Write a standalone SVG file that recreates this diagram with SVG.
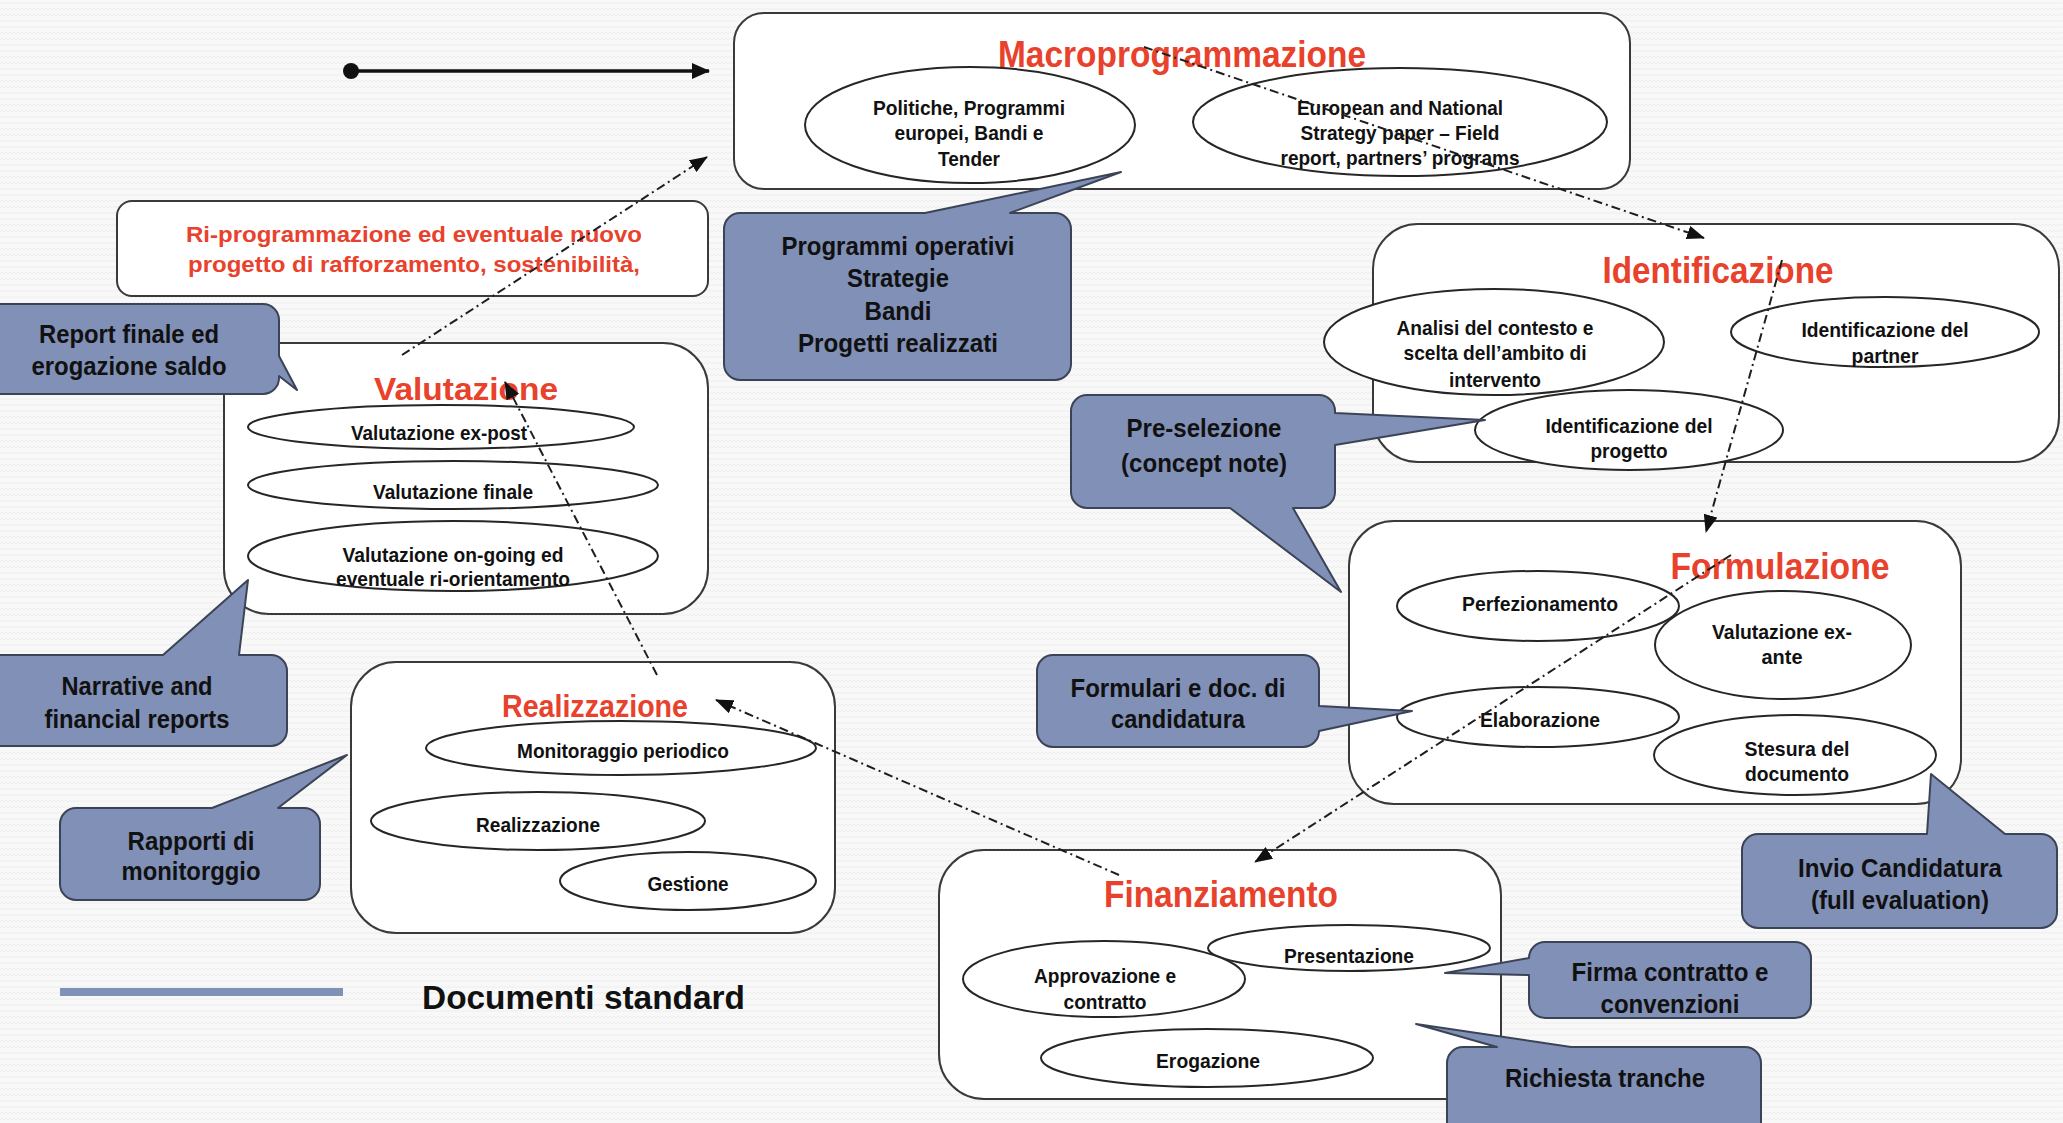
<svg xmlns="http://www.w3.org/2000/svg" width="2063" height="1123" viewBox="0 0 2063 1123">
  <style>
    .box { fill: #ffffff; stroke: #3a3a3a; stroke-width: 2; }
    .oval { fill: #ffffff; stroke: #262626; stroke-width: 2; }
    .note { fill: #8190b7; stroke: #3b4356; stroke-width: 2; stroke-linejoin: round; }
    .t { font-family: "Liberation Sans", Arial, sans-serif; font-weight: bold; text-anchor: middle; fill: #111111; }
    .title { fill: #e8412c; font-size: 36px; }
    .title2 { fill: #e8412c; font-size: 31px; }
    .red { fill: #e8412c; font-size: 22px; }
    .s { font-size: 21px; }
    .m { font-size: 25px; }
    .flow { fill: none; stroke: #1e1e1e; stroke-width: 2; stroke-dasharray: 9 4 2 4; marker-end: url(#ah); }
  </style>
  <defs>
    <pattern id="zig" width="8" height="6" patternUnits="userSpaceOnUse">
      <rect width="8" height="6" fill="#f8f8f8"/>
      <path d="M0,4 L2,2 L4,4 L6,2 L8,4" fill="none" stroke="#ebebeb" stroke-width="0.8"/>
    </pattern>
    <marker id="ah" viewBox="0 0 18 14" refX="17" refY="7" markerWidth="18" markerHeight="14" markerUnits="userSpaceOnUse" orient="auto">
      <path d="M0,0 L18,7 L0,14 Z" fill="#111111"/>
    </marker>
    <marker id="solid" viewBox="0 0 18 16" refX="17" refY="8" markerWidth="18" markerHeight="16" markerUnits="userSpaceOnUse" orient="auto">
      <path d="M0,0 L18,8 L0,16 Z" fill="#111111"/>
    </marker>
  </defs>

  <rect width="2063" height="1123" fill="url(#zig)"/>

  <!-- legend: flow arrow -->
  <g id="legend-flow">
    <circle cx="351" cy="71" r="8" fill="#111111"/>
    <line x1="351" y1="71" x2="709" y2="71" stroke="#111111" stroke-width="3.5" marker-end="url(#solid)"/>
  </g>

  <!-- legend: standard documents -->
  <g id="legend-docs">
    <line x1="60" y1="992" x2="343" y2="992" stroke="#8190b7" stroke-width="8"/>
    <text class="t" style="text-anchor:start;font-size:34px" x="422" y="1009" textLength="323" lengthAdjust="spacingAndGlyphs">Documenti standard</text>
  </g>

  <!-- phase: Macroprogrammazione -->
  <g id="macroprogrammazione">
    <rect class="box" x="734" y="13" width="896" height="176" rx="30"/>
    <text class="t title" x="1182" y="67" textLength="368" lengthAdjust="spacingAndGlyphs">Macroprogrammazione</text>
    <ellipse class="oval" cx="970" cy="125" rx="165" ry="58"/>
    <text class="t s" x="969" y="115" textLength="192" lengthAdjust="spacingAndGlyphs">Politiche, Programmi</text>
    <text class="t s" x="969" y="140" textLength="149" lengthAdjust="spacingAndGlyphs">europei, Bandi e</text>
    <text class="t s" x="969" y="166" textLength="62" lengthAdjust="spacingAndGlyphs">Tender</text>
    <ellipse class="oval" cx="1400" cy="122" rx="207" ry="54"/>
    <text class="t s" x="1400" y="115" textLength="206" lengthAdjust="spacingAndGlyphs">European and National</text>
    <text class="t s" x="1400" y="140" textLength="199" lengthAdjust="spacingAndGlyphs">Strategy paper – Field</text>
    <text class="t s" x="1400" y="165" textLength="239" lengthAdjust="spacingAndGlyphs">report, partners’ programs</text>
  </g>

  <!-- re-programming note -->
  <g id="riprogrammazione">
    <rect class="box" x="117" y="201" width="591" height="95" rx="15"/>
    <text class="t red" x="414" y="242" textLength="456" lengthAdjust="spacingAndGlyphs">Ri-programmazione ed eventuale nuovo</text>
    <text class="t red" x="414" y="272" textLength="452" lengthAdjust="spacingAndGlyphs">progetto di rafforzamento, sostenibilità,</text>
  </g>

  <!-- phase: Identificazione -->
  <g id="identificazione">
    <rect class="box" x="1373" y="224" width="686" height="238" rx="45"/>
    <text class="t title" x="1718" y="283" textLength="231" lengthAdjust="spacingAndGlyphs">Identificazione</text>
    <ellipse class="oval" cx="1494" cy="342" rx="170" ry="53"/>
    <text class="t s" x="1495" y="335" textLength="197" lengthAdjust="spacingAndGlyphs">Analisi del contesto e</text>
    <text class="t s" x="1495" y="360" textLength="183" lengthAdjust="spacingAndGlyphs">scelta dell’ambito di</text>
    <text class="t s" x="1495" y="387" textLength="92" lengthAdjust="spacingAndGlyphs">intervento</text>
    <ellipse class="oval" cx="1885" cy="332" rx="154" ry="35"/>
    <text class="t s" x="1885" y="337" textLength="167" lengthAdjust="spacingAndGlyphs">Identificazione del</text>
    <text class="t s" x="1885" y="363" textLength="67" lengthAdjust="spacingAndGlyphs">partner</text>
    <ellipse class="oval" cx="1629" cy="430" rx="154" ry="40"/>
    <text class="t s" x="1629" y="433" textLength="167" lengthAdjust="spacingAndGlyphs">Identificazione del</text>
    <text class="t s" x="1629" y="458" textLength="77" lengthAdjust="spacingAndGlyphs">progetto</text>
  </g>

  <!-- phase: Formulazione -->
  <g id="formulazione">
    <rect class="box" x="1349" y="521" width="612" height="283" rx="45"/>
    <text class="t title" x="1780" y="579" textLength="219" lengthAdjust="spacingAndGlyphs">Formulazione</text>
    <ellipse class="oval" cx="1538" cy="606" rx="141" ry="35"/>
    <text class="t s" x="1540" y="611" textLength="156" lengthAdjust="spacingAndGlyphs">Perfezionamento</text>
    <ellipse class="oval" cx="1783" cy="645" rx="128" ry="54"/>
    <text class="t s" x="1782" y="639" textLength="140" lengthAdjust="spacingAndGlyphs">Valutazione ex-</text>
    <text class="t s" x="1782" y="664" textLength="41" lengthAdjust="spacingAndGlyphs">ante</text>
    <ellipse class="oval" cx="1538" cy="717" rx="141" ry="30"/>
    <text class="t s" x="1540" y="727" textLength="120" lengthAdjust="spacingAndGlyphs">Elaborazione</text>
    <ellipse class="oval" cx="1795" cy="755" rx="141" ry="40"/>
    <text class="t s" x="1797" y="756" textLength="105" lengthAdjust="spacingAndGlyphs">Stesura del</text>
    <text class="t s" x="1797" y="781" textLength="104" lengthAdjust="spacingAndGlyphs">documento</text>
  </g>

  <!-- phase: Finanziamento -->
  <g id="finanziamento">
    <rect class="box" x="939" y="850" width="562" height="249" rx="45"/>
    <text class="t title" x="1221" y="907" textLength="234" lengthAdjust="spacingAndGlyphs">Finanziamento</text>
    <ellipse class="oval" cx="1349" cy="948" rx="141" ry="23"/>
    <text class="t s" x="1349" y="963" textLength="130" lengthAdjust="spacingAndGlyphs">Presentazione</text>
    <ellipse class="oval" cx="1104" cy="979" rx="141" ry="38"/>
    <text class="t s" x="1105" y="983" textLength="142" lengthAdjust="spacingAndGlyphs">Approvazione e</text>
    <text class="t s" x="1105" y="1009" textLength="83" lengthAdjust="spacingAndGlyphs">contratto</text>
    <ellipse class="oval" cx="1207" cy="1058" rx="166" ry="29"/>
    <text class="t s" x="1208" y="1068" textLength="104" lengthAdjust="spacingAndGlyphs">Erogazione</text>
  </g>

  <!-- phase: Realizzazione -->
  <g id="realizzazione">
    <rect class="box" x="351" y="662" width="484" height="271" rx="45"/>
    <text class="t title2" x="595" y="717" textLength="186" lengthAdjust="spacingAndGlyphs">Realizzazione</text>
    <ellipse class="oval" cx="621" cy="748" rx="195" ry="27"/>
    <text class="t s" x="623" y="758" textLength="212" lengthAdjust="spacingAndGlyphs">Monitoraggio periodico</text>
    <ellipse class="oval" cx="538" cy="821" rx="167" ry="29"/>
    <text class="t s" x="538" y="832" textLength="124" lengthAdjust="spacingAndGlyphs">Realizzazione</text>
    <ellipse class="oval" cx="688" cy="881" rx="128" ry="29"/>
    <text class="t s" x="688" y="891" textLength="81" lengthAdjust="spacingAndGlyphs">Gestione</text>
  </g>

  <!-- phase: Valutazione -->
  <g id="valutazione">
    <rect class="box" x="224" y="343" width="484" height="271" rx="45"/>
    <text class="t title2" x="466" y="400" textLength="184" lengthAdjust="spacingAndGlyphs">Valutazione</text>
    <ellipse class="oval" cx="441" cy="427" rx="193" ry="22"/>
    <text class="t s" x="439" y="440" textLength="176" lengthAdjust="spacingAndGlyphs">Valutazione ex-post</text>
    <ellipse class="oval" cx="453" cy="485" rx="205" ry="24"/>
    <text class="t s" x="453" y="499" textLength="160" lengthAdjust="spacingAndGlyphs">Valutazione finale</text>
    <ellipse class="oval" cx="453" cy="556" rx="205" ry="35"/>
    <text class="t s" x="453" y="562" textLength="221" lengthAdjust="spacingAndGlyphs">Valutazione on-going ed</text>
    <text class="t s" x="453" y="586" textLength="234" lengthAdjust="spacingAndGlyphs">eventuale ri-orientamento</text>
  </g>

  <!-- document callouts -->
  <g id="doc-programmi">
    <path class="note" d="M740,213 L925,213 L1121,172 L1010,213 L1055,213 A16,16 0 0 1 1071,229 L1071,364 A16,16 0 0 1 1055,380 L740,380 A16,16 0 0 1 724,364 L724,229 A16,16 0 0 1 740,213 Z"/>
    <text class="t m" x="898" y="255" textLength="233" lengthAdjust="spacingAndGlyphs">Programmi operativi</text>
    <text class="t m" x="898" y="287" textLength="102" lengthAdjust="spacingAndGlyphs">Strategie</text>
    <text class="t m" x="898" y="320" textLength="67" lengthAdjust="spacingAndGlyphs">Bandi</text>
    <text class="t m" x="898" y="352" textLength="200" lengthAdjust="spacingAndGlyphs">Progetti realizzati</text>
  </g>

  <g id="doc-report-finale">
    <path class="note" d="M-10,304 L263,304 A16,16 0 0 1 279,320 L279,356 L297,390 L279,376 L279,378 A16,16 0 0 1 263,394 L-10,394 Z"/>
    <text class="t m" x="129" y="343" textLength="180" lengthAdjust="spacingAndGlyphs">Report finale ed</text>
    <text class="t m" x="129" y="375" textLength="195" lengthAdjust="spacingAndGlyphs">erogazione saldo</text>
  </g>

  <g id="doc-narrative">
    <path class="note" d="M-10,655 L163,655 L248,580 L239,655 L271,655 A16,16 0 0 1 287,671 L287,730 A16,16 0 0 1 271,746 L-10,746 Z"/>
    <text class="t m" x="137" y="695" textLength="151" lengthAdjust="spacingAndGlyphs">Narrative and</text>
    <text class="t m" x="137" y="728" textLength="185" lengthAdjust="spacingAndGlyphs">financial reports</text>
  </g>

  <g id="doc-rapporti">
    <path class="note" d="M76,808 L212,808 L347,755 L278,808 L304,808 A16,16 0 0 1 320,824 L320,884 A16,16 0 0 1 304,900 L76,900 A16,16 0 0 1 60,884 L60,824 A16,16 0 0 1 76,808 Z"/>
    <text class="t m" x="191" y="850" textLength="127" lengthAdjust="spacingAndGlyphs">Rapporti di</text>
    <text class="t m" x="191" y="880" textLength="139" lengthAdjust="spacingAndGlyphs">monitorggio</text>
  </g>

  <g id="doc-preselezione">
    <path class="note" d="M1087,395 L1319,395 A16,16 0 0 1 1335,411 L1335,413 L1485,420 L1335,445 L1335,492 A16,16 0 0 1 1319,508 L1293,508 L1341,592 L1230,508 L1087,508 A16,16 0 0 1 1071,492 L1071,411 A16,16 0 0 1 1087,395 Z"/>
    <text class="t m" x="1204" y="437" textLength="155" lengthAdjust="spacingAndGlyphs">Pre-selezione</text>
    <text class="t m" x="1204" y="472" textLength="166" lengthAdjust="spacingAndGlyphs">(concept note)</text>
  </g>

  <g id="doc-formulari">
    <path class="note" d="M1053,655 L1303,655 A16,16 0 0 1 1319,671 L1319,706 L1412,711 L1319,731 A16,16 0 0 1 1303,747 L1053,747 A16,16 0 0 1 1037,731 L1037,671 A16,16 0 0 1 1053,655 Z"/>
    <text class="t m" x="1178" y="697" textLength="215" lengthAdjust="spacingAndGlyphs">Formulari e doc. di</text>
    <text class="t m" x="1178" y="728" textLength="134" lengthAdjust="spacingAndGlyphs">candidatura</text>
  </g>

  <g id="doc-invio">
    <path class="note" d="M1758,834 L1927,834 L1931,774 L2005,834 L2041,834 A16,16 0 0 1 2057,850 L2057,912 A16,16 0 0 1 2041,928 L1758,928 A16,16 0 0 1 1742,912 L1742,850 A16,16 0 0 1 1758,834 Z"/>
    <text class="t m" x="1900" y="877" textLength="204" lengthAdjust="spacingAndGlyphs">Invio Candidatura</text>
    <text class="t m" x="1900" y="909" textLength="178" lengthAdjust="spacingAndGlyphs">(full evaluation)</text>
  </g>

  <g id="doc-firma">
    <path class="note" d="M1545,942 L1795,942 A16,16 0 0 1 1811,958 L1811,1002 A16,16 0 0 1 1795,1018 L1545,1018 A16,16 0 0 1 1529,1002 L1529,975 L1445,973 L1529,958 A16,16 0 0 1 1545,942 Z"/>
    <text class="t m" x="1670" y="981" textLength="197" lengthAdjust="spacingAndGlyphs">Firma contratto e</text>
    <text class="t m" x="1670" y="1013" textLength="139" lengthAdjust="spacingAndGlyphs">convenzioni</text>
  </g>

  <g id="doc-richiesta">
    <path class="note" d="M1463,1047 L1497,1047 L1416,1024 L1571,1047 L1745,1047 A16,16 0 0 1 1761,1063 L1761,1140 L1447,1140 L1447,1063 A16,16 0 0 1 1463,1047 Z"/>
    <text class="t m" x="1605" y="1087" textLength="200" lengthAdjust="spacingAndGlyphs">Richiesta tranche</text>
  </g>

  <!-- project cycle flow -->
  <g id="connectors">
    <line class="flow" x1="1144" y1="47" x2="1704" y2="238"/>
    <line class="flow" x1="1782" y1="260" x2="1706" y2="532"/>
    <line class="flow" x1="1731" y1="555" x2="1255" y2="862"/>
    <line class="flow" x1="1119" y1="875" x2="716" y2="700"/>
    <line class="flow" x1="657" y1="675" x2="505" y2="382"/>
    <line class="flow" x1="402" y1="355" x2="707" y2="157"/>
  </g>
</svg>
